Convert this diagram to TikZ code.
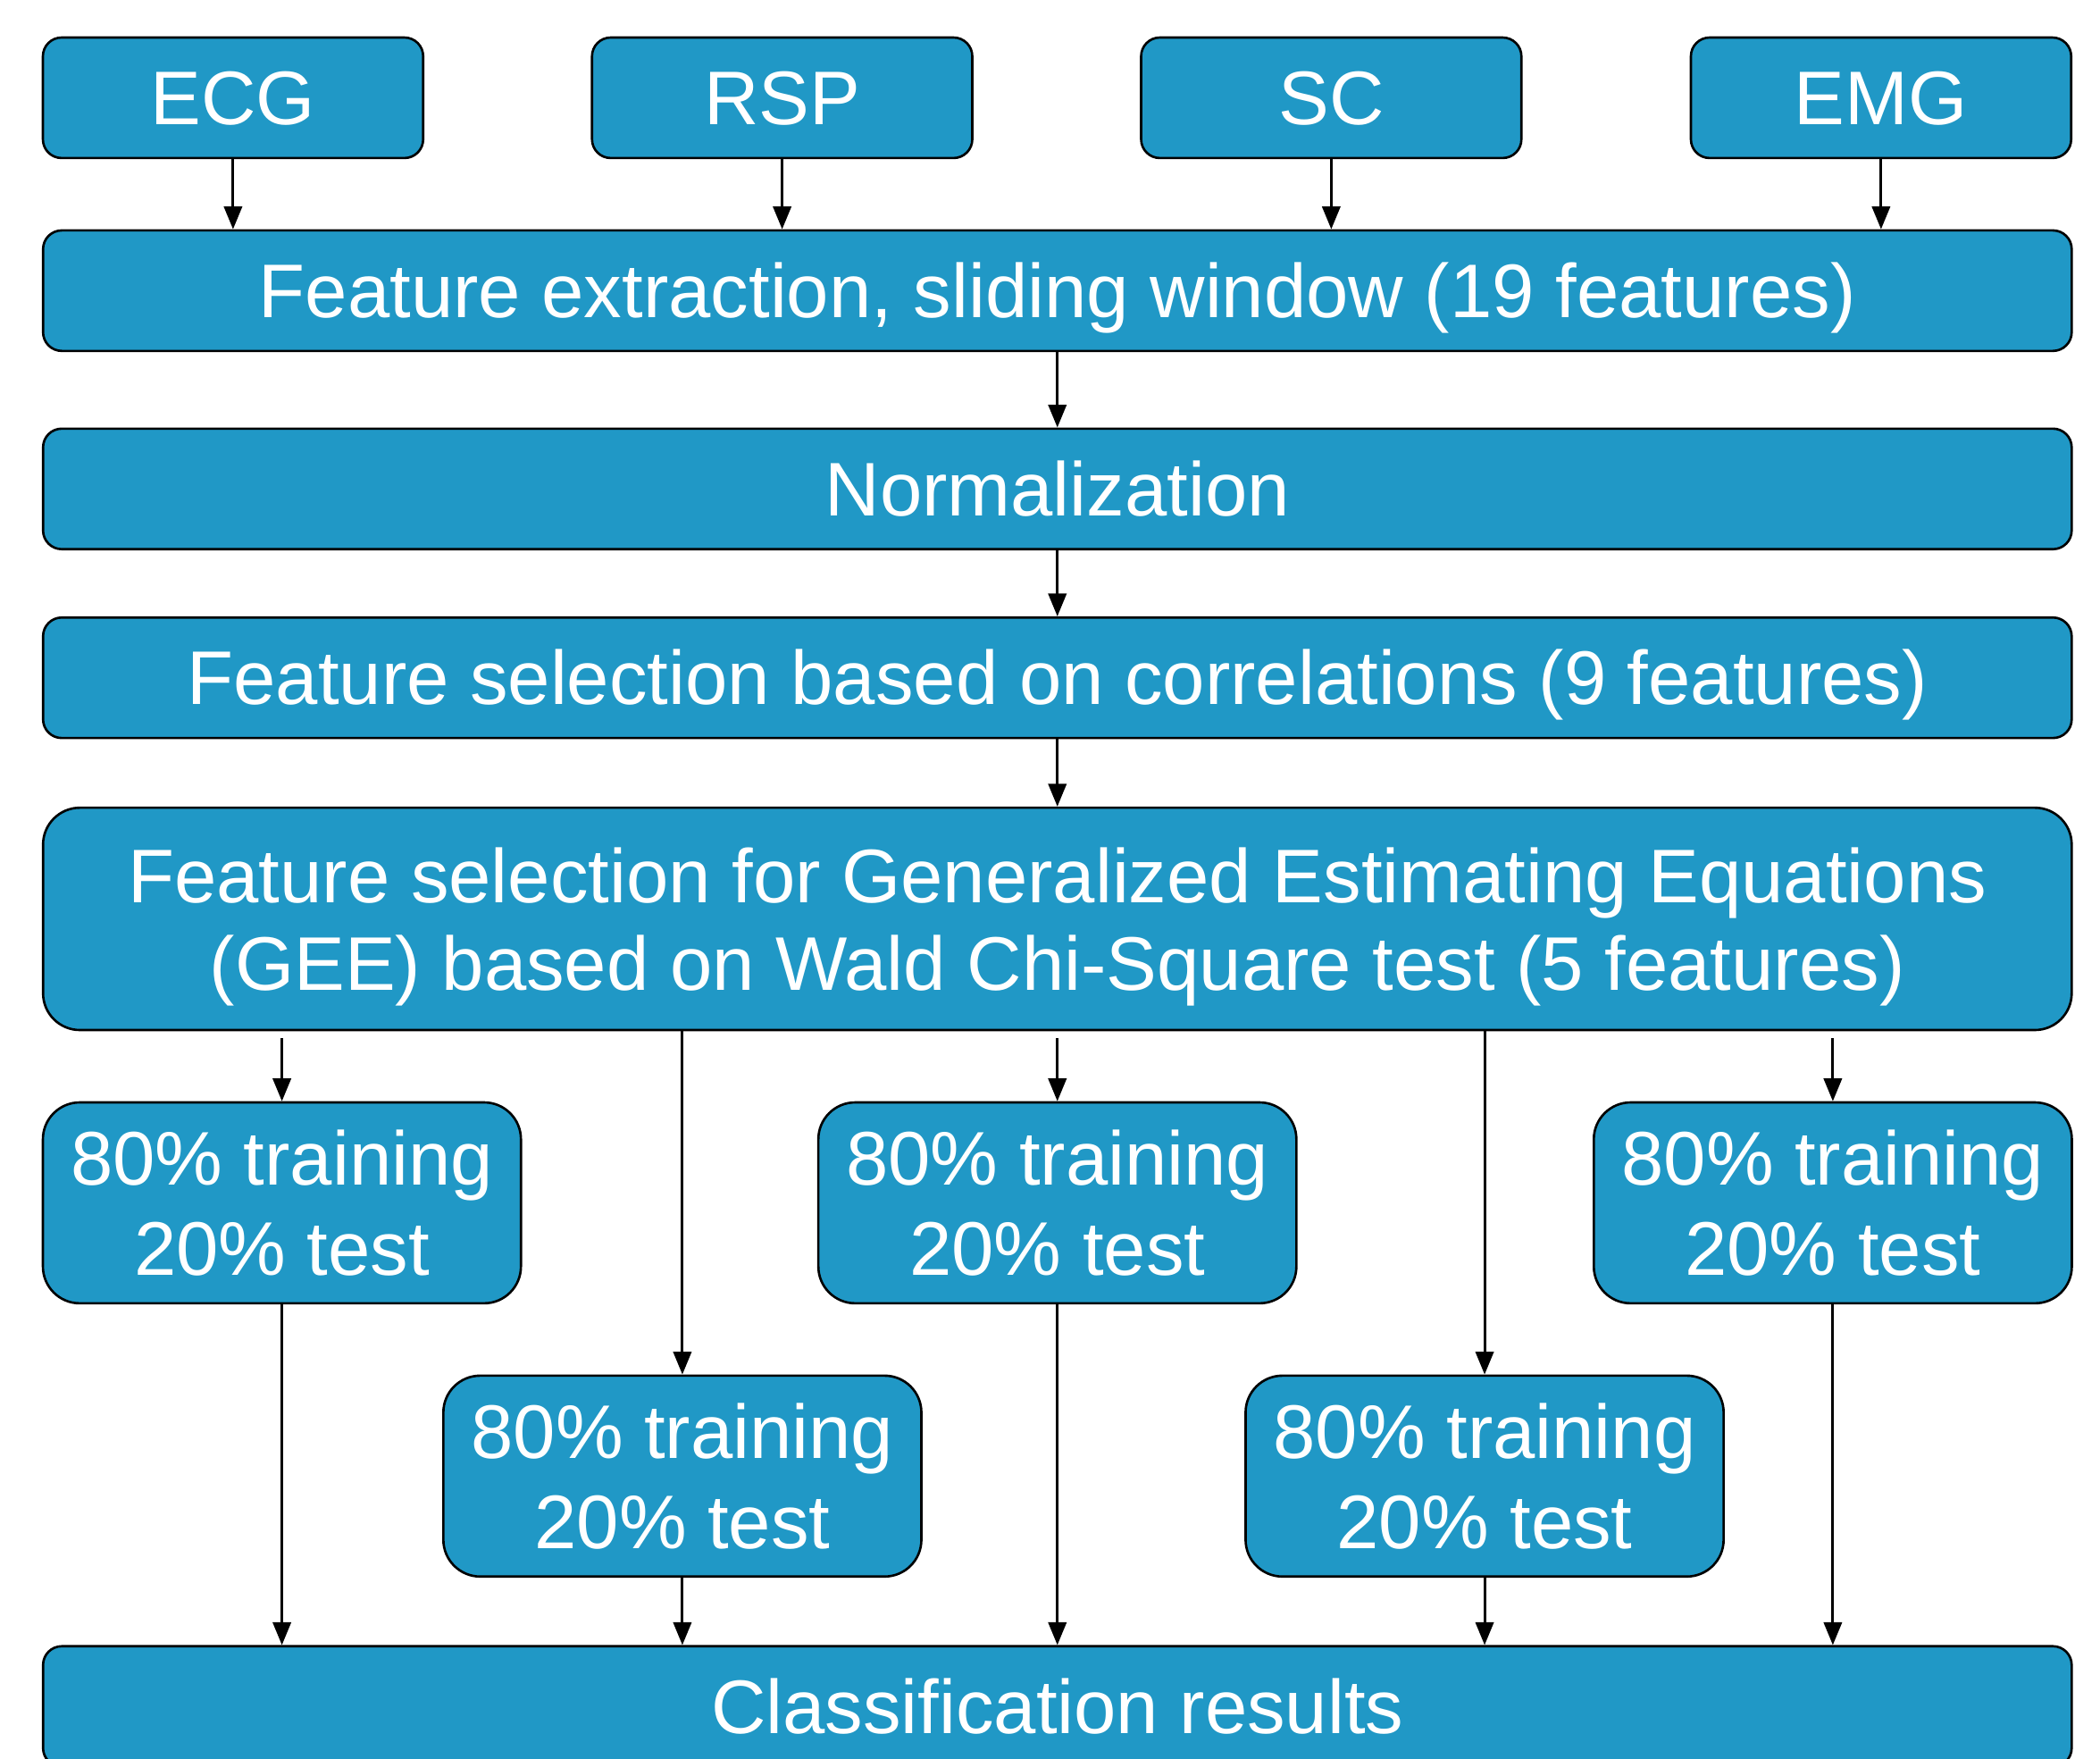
\documentclass[tikz,border=0pt]{standalone}
\usepackage{fontspec}
\setmainfont{Liberation Sans}
\usetikzlibrary{arrows.meta}
\definecolor{boxblue}{RGB}{32,152,198}

\tikzset{
    basebox/.style={draw=black, line width=1pt, fill=boxblue, text=white, rounded corners=0.28cm,
        minimum height=1.8cm, inner sep=0pt, font=\fontsize{32.3}{37}\selectfont, align=center},
    stagebox/.style={basebox, text height=23pt, text depth=0pt},
    signalbox/.style={stagebox, minimum width=5.68cm},
    widebox/.style={stagebox, minimum width=30.3cm},
    geebox/.style={basebox, rounded corners=0.55cm, minimum width=30.3cm, minimum height=3.32cm,
        text depth=0pt},
    splitbox/.style={basebox, rounded corners=0.55cm, minimum width=7.14cm, minimum height=3cm,
        font=\fontsize{32.3}{38.5}\selectfont},
    flow/.style={-{Triangle[length=0.34cm,width=0.27cm]}, line width=1.1pt}
}

\begin{document}
\begin{tikzpicture}[x=0.02cm, y=0.02cm]
        \clip (0,0) rectangle (1568,-1313);

        % Signals
        \node[signalbox] (ecg) at (174,-73) {ECG};
        \node[signalbox] (rsp) at (584,-73) {RSP};
        \node[signalbox] (sc)  at (994,-73) {SC};
        \node[signalbox] (emg) at (1404.5,-73) {EMG};

        % Processing stages
        \node[widebox] (extract) at (789.5,-217) {Feature extraction, sliding window (19 features)};
        \node[widebox] (norm) at (789.5,-365) {Normalization};
        \node[widebox] (corr) at (789.5,-506) {Feature selection based on correlations (9 features)};
        \node[geebox] (gee) at (789.5,-686)
            {Feature selection for Generalized Estimating Equations\\(GEE) based on Wald Chi-Square test (5 features)};

        % Train/test splits
        \node[splitbox] (split1) at (210.5,-898) {80\% training\\20\% test};
        \node[splitbox] (split2) at (509.5,-1102) {80\% training\\20\% test};
        \node[splitbox] (split3) at (789.5,-898) {80\% training\\20\% test};
        \node[splitbox] (split4) at (1108.5,-1102) {80\% training\\20\% test};
        \node[splitbox] (split5) at (1368.5,-898) {80\% training\\20\% test};

        % Results
        \node[widebox] (result) at (789.5,-1274) {Classification results};

        % Arrows
        \draw[flow] (ecg) -- (ecg |- extract.north);
        \draw[flow] (rsp) -- (rsp |- extract.north);
        \draw[flow] (sc) -- (sc |- extract.north);
        \draw[flow] (emg) -- (emg |- extract.north);
        \draw[flow] (extract) -- (norm);
        \draw[flow] (norm) -- (corr);
        \draw[flow] (corr) -- (gee);
        \draw[flow] ([yshift=-0.1cm]gee.south -| split1.north) -- (split1.north);
        \draw[flow] (gee.south -| split2.north) -- (split2.north);
        \draw[flow] ([yshift=-0.1cm]gee.south -| split3.north) -- (split3.north);
        \draw[flow] (gee.south -| split4.north) -- (split4.north);
        \draw[flow] ([yshift=-0.1cm]gee.south -| split5.north) -- (split5.north);
        \draw[flow] (split1) -- (split1 |- result.north);
        \draw[flow] (split2) -- (split2 |- result.north);
        \draw[flow] (split3) -- (split3 |- result.north);
        \draw[flow] (split4) -- (split4 |- result.north);
        \draw[flow] (split5) -- (split5 |- result.north);
    \end{tikzpicture}
\end{document}
